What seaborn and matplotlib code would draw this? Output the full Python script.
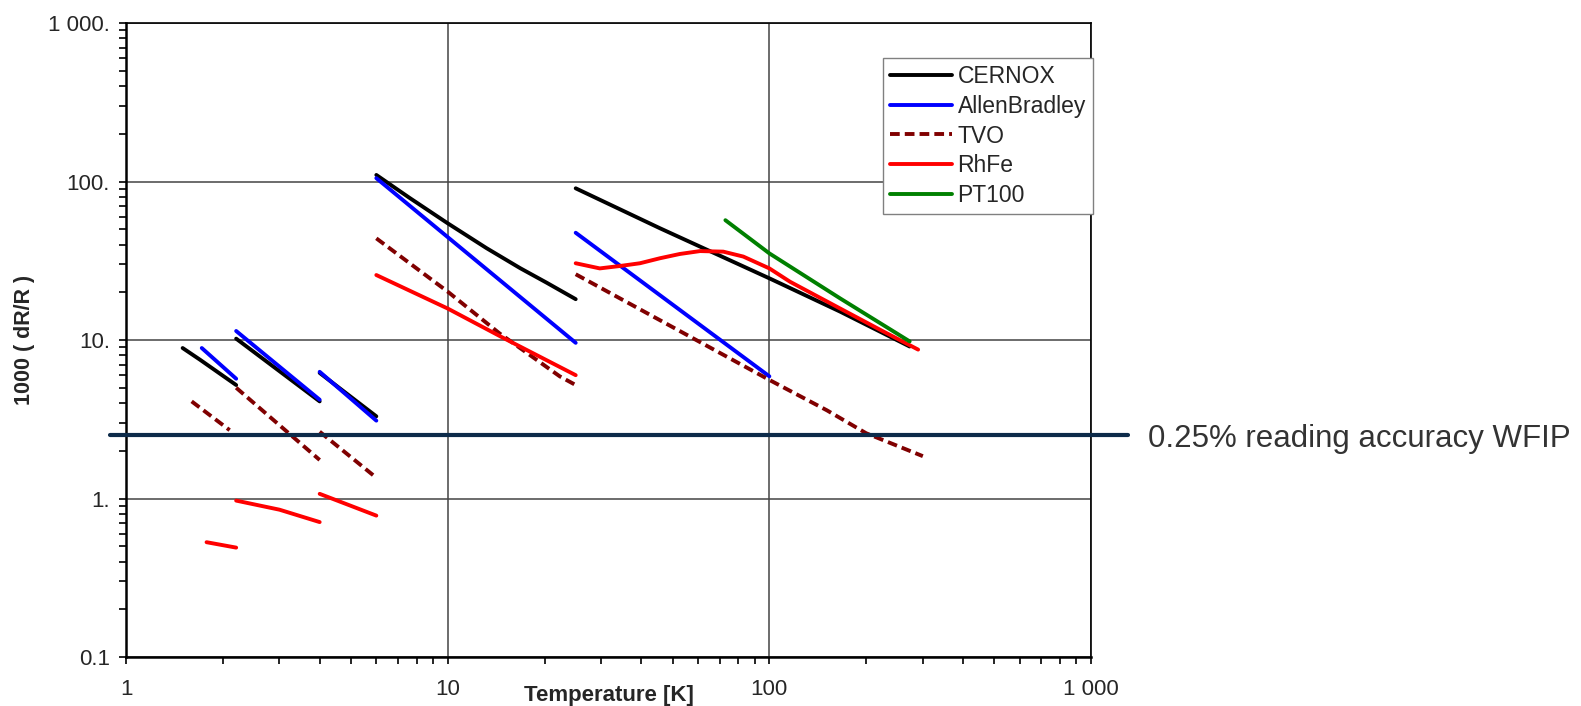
#!/usr/bin/env python3

import matplotlib
matplotlib.use('Agg')
import matplotlib.pyplot as plt
import matplotlib.ticker as mticker
import seaborn as sns
import pandas as pd


SENSORS = ['CERNOX', 'AllenBradley', 'TVO', 'RhFe', 'PT100']
COLORS = ['black', '#0000ff', '#800000', '#ff0000', '#008000']

# one list per temperature window
CERNOX_T = [[1.5, 1.7, 2.2], [2.2, 4.0], [4.0, 6.0],
            [6.0, 7.6, 10, 13.2, 16.8, 20.3, 25], [25, 45.7, 100, 166, 273]]
CERNOX_V = [[8.9, 7.5, 5.2], [10.2, 4.1], [6.2, 3.3],
            [110, 79, 54.5, 38, 28.4, 23, 18.1], [90.6, 50.7, 24.5, 15.1, 9.1]]

ALLEN_T = [[1.72, 2.2], [2.2, 4.0], [4.0, 6.0], [6.0, 25], [25, 100]]
ALLEN_V = [[8.9, 5.7], [11.4, 4.2], [6.3, 3.1], [105, 9.6], [47.5, 5.9]]

TVO_T = [[1.6, 2.1], [2.2, 4.0], [4.0, 5.9], [6.0, 10, 14.5, 22.3, 25], [25, 100, 151, 200, 300]]
TVO_V = [[4.1, 2.7], [5.0, 1.75], [2.64, 1.39], [43.8, 20.2, 11.0, 5.9, 5.2], [26, 5.6, 3.6, 2.58, 1.85]]

RHFE_T = [[1.78, 2.2], [2.2, 3.0, 4.0], [4.0, 6.0], [6.0, 10, 14.9, 25],
          [25, 29.7, 34.3, 39.6, 45.7, 52.7, 60.9, 71.9, 83, 100, 116, 166, 221, 290]]
RHFE_V = [[0.53, 0.49], [0.97, 0.85, 0.71], [1.07, 0.78], [25.7, 15.8, 10.3, 6.0],
          [30.5, 28.3, 29.3, 30.5, 32.8, 34.9, 36.4, 36.1, 33.6, 28.3, 23.3, 15.8, 11.6, 8.7]]

PT100_T = [[73, 100, 166, 273]]
PT100_V = [[57, 35.2, 18.3, 9.8]]

ACCURACY = 2.5  # 0.25 % reading accuracy -> 1000*dR/R
ACCURACY_LABEL = '0.25% reading accuracy WFIP'

X_TICKS = [1, 10, 100, 1000]
X_LABELS = ['1', '10', '100', '1 000']
Y_TICKS = [0.1, 1, 10, 100, 1000]
Y_LABELS = ['0.1', '1.', '10.', '100.', '1 000.']


def build_frame():
    '''Long table: sensor, segment id, temperature, 1000 dR/R'''
    rows = []
    series = [(CERNOX_T, CERNOX_V), (ALLEN_T, ALLEN_V), (TVO_T, TVO_V),
              (RHFE_T, RHFE_V), (PT100_T, PT100_V)]
    for name, (ts, vs) in zip(SENSORS, series):
        for i, (t_seg, v_seg) in enumerate(zip(ts, vs)):
            for t, v in zip(t_seg, v_seg):
                rows.append({'sensor': name, 'seg': f'{name}-{i}', 'T': t, 'dRR': v})
    return pd.DataFrame(rows)


def main():
    sns.set_theme(style='white')
    plt.rcParams['font.family'] = ['Liberation Sans', 'DejaVu Sans']

    df = build_frame()
    fig = plt.figure(figsize=(15.81, 7.06), dpi=100)
    ax = fig.add_axes([0.0797, 0.0694, 0.6104, 0.898])

    dashes = {s: '' for s in SENSORS}
    dashes['TVO'] = (2.5, 1.3)
    sns.lineplot(data=df, x='T', y='dRR', hue='sensor', style='sensor', units='seg',
                 estimator=None, sort=False, palette=dict(zip(SENSORS, COLORS)),
                 dashes=dashes, hue_order=SENSORS, style_order=SENSORS,
                 linewidth=2.8, ax=ax)

    ax.set_xscale('log')
    ax.set_yscale('log')
    ax.set_xlim(1, 1000)
    ax.set_ylim(0.1, 1000)
    ax.set_xticks(X_TICKS)
    ax.set_xticklabels(X_LABELS)
    ax.set_yticks(Y_TICKS)
    ax.set_yticklabels(Y_LABELS)
    ax.xaxis.set_minor_locator(mticker.LogLocator(base=10, subs=range(2, 10)))
    ax.yaxis.set_minor_locator(mticker.LogLocator(base=10, subs=range(2, 10)))
    ax.xaxis.set_minor_formatter(mticker.NullFormatter())
    ax.yaxis.set_minor_formatter(mticker.NullFormatter())
    ax.tick_params(which='both', direction='out', color='black', width=1.2, length=5,
                   bottom=True, left=True, top=False, right=False)
    ax.tick_params(which='major', labelsize=16, pad=6.5)
    ax.tick_params(axis='x', which='major', pad=11)

    ax.grid(True, which='major', color='#444444', lw=1.1)
    for side, spine in ax.spines.items():
        spine.set_color('black')
        spine.set_linewidth(1.8 if side in ('left', 'bottom') else 1.2)

    ax.set_xlabel('Temperature [K]', fontsize=16, fontweight='bold', va='center')
    ax.xaxis.set_label_coords(0.5, -0.061)
    ax.set_ylabel('1000 ( dR/R )', fontsize=15.5, fontweight='bold', va='center')
    ax.yaxis.set_label_coords(-0.105, 0.5)

    # accuracy limit, drawn past both ends of the axes
    ax.axhline(ACCURACY, xmin=-0.0166, xmax=1.038, color='#0d2b4a', lw=3.0, clip_on=False, zorder=5)
    fig.text(0.726, 0.378, ACCURACY_LABEL, fontsize=22.5, color='#333333', va='center', ha='left')

    handles, labels = ax.get_legend_handles_labels()
    leg = ax.legend(handles, labels, loc='upper left', bbox_to_anchor=(0.7845, 0.945),
                    borderaxespad=0, fontsize=16.5, handlelength=2.7, handletextpad=0.25,
                    labelspacing=0.3, borderpad=0.3, frameon=True, fancybox=False,
                    framealpha=1, edgecolor='#808080')
    leg.get_frame().set_linewidth(1.0)
    for line in leg.get_lines():
        line.set_linewidth(2.8)

    fig.savefig('out.png', dpi=100)


if __name__ == '__main__':
    main()
